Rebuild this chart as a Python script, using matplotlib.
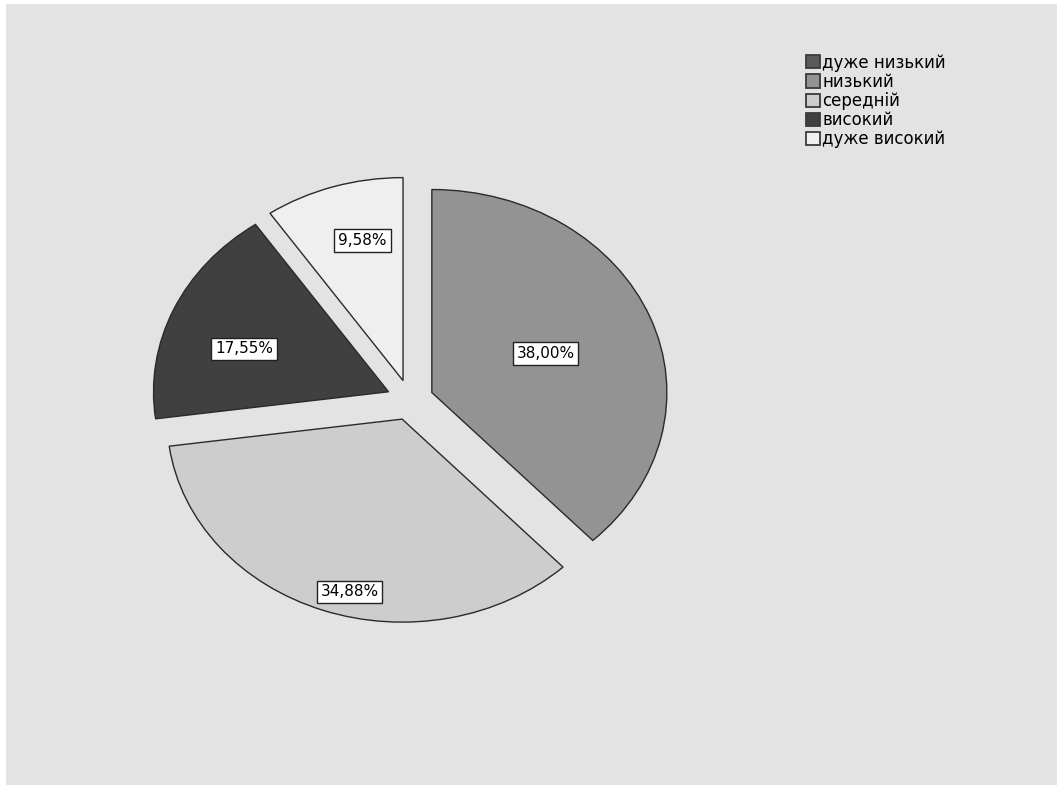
import matplotlib
matplotlib.use("Agg")
import matplotlib.pyplot as plt
from matplotlib.patches import Patch, Rectangle
import numpy as np

categories = ["дуже низький", "низький", "середній", "високий", "дуже високий"]
values = [0.0, 38.00, 34.88, 17.55, 9.58]
labels = ["", "38,00%", "34,88%", "17,55%", "9,58%"]
colors = ["#5a5a5a", "#939393", "#cdcdcd", "#404040", "#efefef"]

# label placement (style): distance from slice apex and angular shift
label_dist = [0.0, 0.52, 0.88, 0.65, 0.71]
label_shift = [0.0, 0.0, 4.8, 5.0, -3.2]

W, H = 1060, 789
fig = plt.figure(figsize=(W / 100, H / 100), dpi=100)
fig.patch.set_facecolor("white")
fig.patches.append(Rectangle((6 / W, 4 / H), (1057 - 6) / W, (785 - 4) / H,
                             transform=fig.transFigure, facecolor="#e3e3e3",
                             edgecolor="none", zorder=-10))

ax = fig.add_axes([0, 0, 1, 1])
ax.set_facecolor("none")
ax.set_zorder(1)

cx, cy = 410, H - 400
rx, ry = 235, 203

wedges, _ = ax.pie(values, colors=colors, startangle=90, counterclock=False,
                   explode=[0.1] * len(values),
                   wedgeprops=dict(edgecolor="#2a2a2a", linewidth=1.0))
for w, v in zip(wedges, values):
    if v == 0:
        w.set_visible(False)

ax.set_aspect("auto")
ax.set_xlim(-cx / rx, (W - cx) / rx)
ax.set_ylim(-cy / ry, (H - cy) / ry)
ax.axis("off")

for w, lab, d, s, v in zip(wedges, labels, label_dist, label_shift, values):
    if v == 0:
        continue
    th = np.deg2rad((w.theta1 + w.theta2) / 2 + s)
    x0, y0 = w.center
    ax.text(x0 + d * np.cos(th), y0 + d * np.sin(th), lab,
            ha="center", va="center", fontsize=11, family="DejaVu Sans",
            bbox=dict(boxstyle="square,pad=0.25", facecolor="white",
                      edgecolor="#222222", linewidth=1.0))

handles = [Patch(facecolor=c, edgecolor="#3a3a3a", linewidth=1.3) for c in colors]
leg = fig.legend(handles, categories, loc="upper left",
                 bbox_to_anchor=(794 / W, 1 - 42 / H), frameon=False,
                 prop=dict(family="DejaVu Sans", size=12),
                 handlelength=0.84, handleheight=0.84, handletextpad=0.15,
                 labelspacing=0.07, borderpad=0.2)
leg.set_zorder(2)

fig.savefig("out.png", dpi=100, facecolor=fig.get_facecolor())
